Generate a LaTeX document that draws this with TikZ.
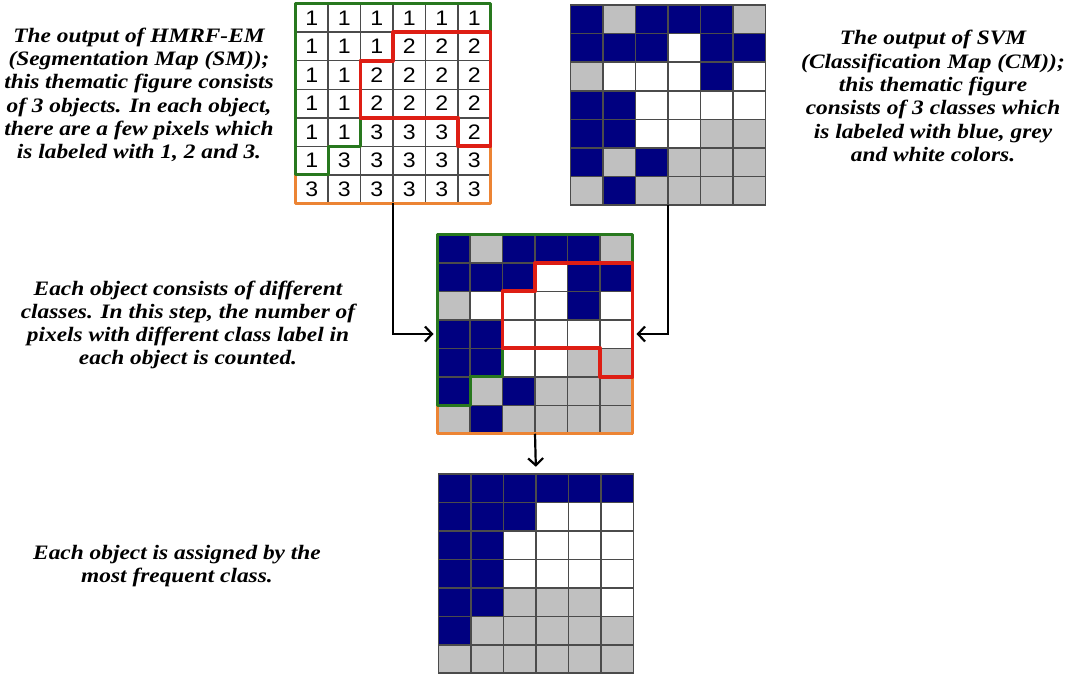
\documentclass[tikz,border=0pt]{standalone}
\usepackage{fontspec}
\setmainfont{Liberation Serif}
\newfontfamily\notefont[FakeStretch=1.14]{Liberation Serif}
\newfontfamily\digitfont[FakeStretch=1.1]{Liberation Sans}
\usetikzlibrary{arrows.meta,positioning}
\definecolor{mapB}{RGB}{0,0,128}
\definecolor{mapG}{RGB}{192,192,192}
\definecolor{mapW}{RGB}{255,255,255}
\definecolor{objgreen}{RGB}{40,120,30}
\definecolor{objred}{RGB}{222,30,20}
\definecolor{objorange}{RGB}{236,132,52}
\definecolor{gridgrey}{RGB}{75,75,75}

% cells of one map, rows from the top
\newcommand{\mapcells}[1]{%
  \foreach \row [count=\r from 0] in {#1} {
    \foreach \c [count=\k from 0] in \row
      \fill[fill=map\c] (\k,\r) rectangle ++(1,1);
  }
  \foreach \i in {0,...,6} \draw[gridln] (\i,0) -- (\i,7);
  \foreach \j in {0,...,7} \draw[gridln] (0,\j) -- (6,\j);
}
% the three objects of the segmentation map
\newcommand{\objborders}{%
  \draw[objline, objorange] (0,6) -- (1,6) -- (1,5) -- (2,5) -- (2,4) -- (5,4) -- (5,5) -- (6,5) -- (6,7) -- (0,7) -- cycle;
  \draw[objline, objgreen] (0,0) -- (6,0) -- (6,1) -- (3,1) -- (3,2) -- (2,2) -- (2,5) -- (1,5) -- (1,6) -- (0,6) -- cycle;
  \draw[objline, objred, line width=3.6pt] (3,1) -- (6,1) -- (6,5) -- (5,5) -- (5,4) -- (2,4) -- (2,2) -- (3,2) -- cycle;
}

\begin{document}
\begin{tikzpicture}[x=1pt, y=-1pt,
  note/.style={font=\notefont\fontsize{20.5}{23.3}\selectfont\bfseries\itshape, align=center, inner sep=0pt},
  mapframe/.style={minimum width=195pt, minimum height=199.5pt, inner sep=0pt, outer sep=0pt},
  cellunits/.style={x=32.5pt, y=-28.5pt},
  gridln/.style={gridgrey, line width=1.5pt},
  objline/.style={line width=3pt, line join=round},
  digit/.style={font=\digitfont\fontsize{21}{21}\selectfont, inner sep=0pt},
  flow/.style={line width=2.2pt, -{Straight Barb[length=7pt, width=15pt, line width=2.2pt]}, shorten >=4pt}]
  \useasboundingbox (0,0) rectangle (1065,677);

  \node[mapframe] (sm) at (393,103.5) {};
  \node[mapframe] (cm) at (668,105) {};
  \node[mapframe] (cnt) at (535,334) {};
  \node[mapframe] (res) at (536,573.5) {};

  % segmentation map (SM)
  \begin{scope}[shift={(sm.north west)}, cellunits]
    \mapcells{{W,W,W,W,W,W},{W,W,W,W,W,W},{W,W,W,W,W,W},{W,W,W,W,W,W},{W,W,W,W,W,W},{W,W,W,W,W,W},{W,W,W,W,W,W}}
    \foreach \row [count=\r from 0] in {{1,1,1,1,1,1},{1,1,1,2,2,2},{1,1,2,2,2,2},{1,1,2,2,2,2},{1,1,3,3,3,2},{1,3,3,3,3,3},{3,3,3,3,3,3}} {
      \foreach \d [count=\k from 0] in \row
        \node[digit] (sm-\r-\k) at (\k+0.5,\r+0.5) {\d};
    }
    \objborders
  \end{scope}

  % classification map (CM)
  \begin{scope}[shift={(cm.north west)}, cellunits]
    \mapcells{{B,G,B,B,B,G},{B,B,B,W,B,B},{G,W,W,W,B,W},{B,B,W,W,W,W},{B,B,W,W,G,G},{B,G,B,G,G,G},{G,B,G,G,G,G}}
    \draw[gridgrey, line width=1.8pt] (0,0) rectangle (6,7);
  \end{scope}

  % counting step
  \begin{scope}[shift={(cnt.north west)}, cellunits]
    \mapcells{{B,G,B,B,B,G},{B,B,B,W,B,B},{G,W,W,W,B,W},{B,B,W,W,W,W},{B,B,W,W,G,G},{B,G,B,G,G,G},{G,B,G,G,G,G}}
    \objborders
  \end{scope}

  % result
  \begin{scope}[shift={(res.north west)}, cellunits]
    \mapcells{{B,B,B,B,B,B},{B,B,B,W,W,W},{B,B,W,W,W,W},{B,B,W,W,W,W},{B,B,G,G,G,W},{B,G,G,G,G,G},{G,G,G,G,G,G}}
    \draw[gridgrey, line width=1.8pt] (0,0) rectangle (6,7);
  \end{scope}

  \draw[flow] (sm.south) |- (cnt.west);
  \draw[flow] (cm.south) |- (cnt.east);
  \draw[flow, shorten >=7pt] (cnt.south) -- (res.north);

  \node[note] (smtext) at (139,95) {The output of HMRF-EM\\(Segmentation Map (SM));\\this thematic figure consists\\of 3 objects. In each object,\\there are a few pixels which\\is labeled with 1, 2 and 3.};
  \node[note] (cmtext) at (933,96) {The output of SVM\\(Classification Map (CM));\\this thematic figure\\consists of 3 classes which\\is labeled with blue, grey\\and white colors.};
  \node[note] (cnttext) at (188,325) {Each object consists of different\\classes. In this step, the number of\\pixels with different class label in\\each object is counted.};
  \node[note] (restext) at (177,566) {Each object is assigned by the\\most frequent class.};
\end{tikzpicture}
\end{document}
